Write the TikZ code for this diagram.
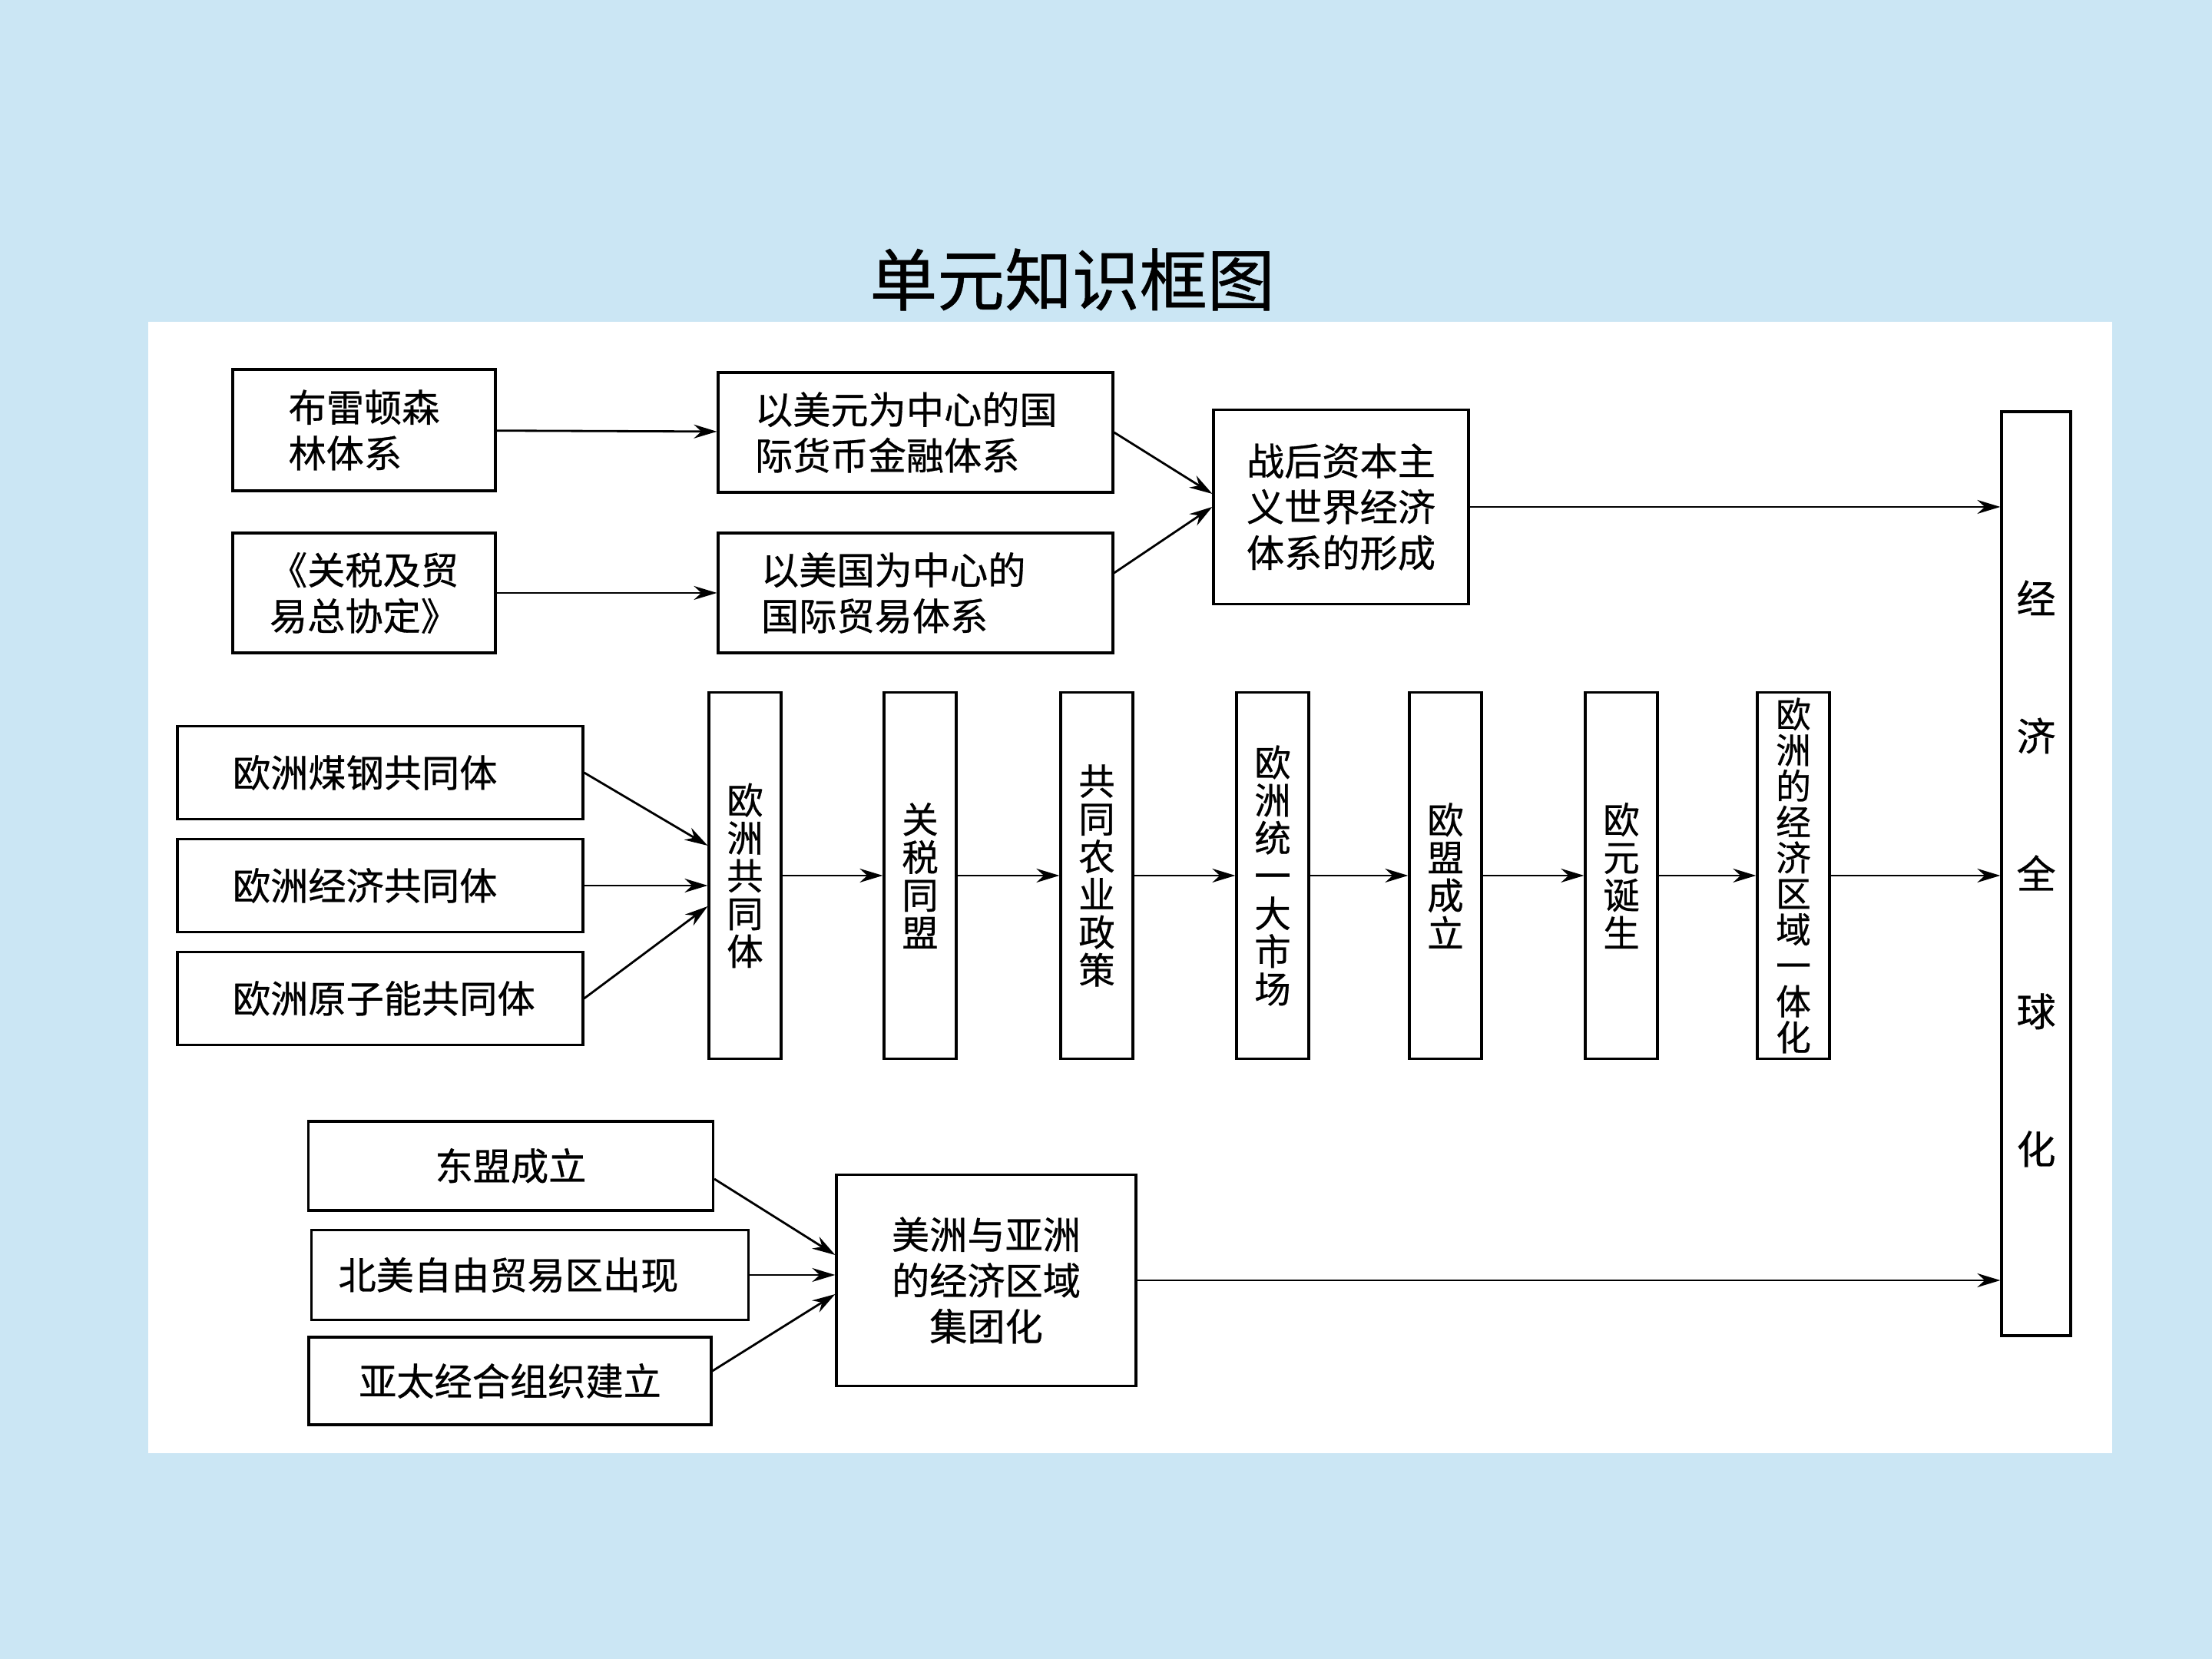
\documentclass[tikz,border=0pt]{standalone}
\usepackage{fontspec}
\usepackage{tikz}
\usetikzlibrary{arrows.meta}
\newfontfamily\cjk[FakeBold=0.6]{Noto Sans CJK SC}
\definecolor{sky}{HTML}{CBE6F4}

\begin{document}
\begin{tikzpicture}[
 b/.style={draw,line width=.9pt,fill=white,inner sep=0pt,font=\cjk\fontsize{14}{17}\selectfont},
 h/.style={b,align=left},
 l/.style={b,align=left,inner xsep=.72cm,text width=3.84cm,minimum height=1.21cm},
 v/.style={b,align=center,minimum width=.94cm,minimum height=4.77cm,font=\cjk\fontsize{13.5}{14}\selectfont},
 a/.style={-{Stealth[length=3mm,width=1.8mm]},line width=.8pt}
]
\fill[sky] (0,0) rectangle (28.8,21.6);
\fill[white] (1.93,2.68) rectangle (27.50,17.41);
\node[font=\cjk\fontsize{25}{30}\selectfont] (title) at (13.96,17.96) {单元知识框图};
% top rows
\node[h,minimum width=3.42cm,minimum height=1.58cm] (bl) at (4.74,16.00) {布雷顿森\\林体系};
\node[h,inner xsep=.48cm,text width=4.18cm,minimum height=1.56cm] (usd) at (11.92,15.97) {以美元为中心的国\\际货币金融体系};
\node[h,minimum width=3.42cm,minimum height=1.56cm] (gatt) at (4.74,13.88) {《关税及贸\\易总协定》};
\node[h,inner xsep=.56cm,text width=4.02cm,minimum height=1.56cm] (ust) at (11.92,13.88) {以美国为中心的\\国际贸易体系};
\node[h,minimum width=3.32cm,minimum height=2.53cm] (post) at (17.46,15.00) {战后资本主\\义世界经济\\体系的形成};
\node[b,align=center,minimum width=.90cm,minimum height=12.03cm,font=\cjk\fontsize{14.5}{51}\selectfont] (glob) at (26.51,10.225) {经\\济\\全\\球\\化};
% europe
\node[l] (ecsc) at (4.95,11.54) {欧洲煤钢共同体};
\node[l] (eec) at (4.95,10.07) {欧洲经济共同体};
\node[l] (eaec) at (4.95,8.60) {欧洲原子能共同体};
\node[v] (ec) at (9.70,10.20) {欧\\洲\\共\\同\\体};
\node[v] (cu) at (11.98,10.20) {关\\税\\同\\盟};
\node[v] (agri) at (14.28,10.20) {共\\同\\农\\业\\政\\策};
\node[v] (sm) at (16.57,10.20) {欧\\洲\\统\\一\\大\\市\\场};
\node[v] (eu) at (18.82,10.20) {欧\\盟\\成\\立};
\node[v] (euro) at (21.11,10.20) {欧\\元\\诞\\生};
\node[v,font=\cjk\fontsize{13}{13.3}\selectfont] (integ) at (23.35,10.20) {欧\\洲\\的\\经\\济\\区\\域\\一\\体\\化};
% america and asia
\node[h,minimum width=5.27cm,minimum height=1.16cm] (asean) at (6.65,6.42) {东盟成立};
\node[h,inner xsep=.35cm,text width=4.99cm,minimum height=1.17cm] (nafta) at (6.90,5.00) {北美自由贸易区出现};
\node[h,minimum width=5.24cm,minimum height=1.14cm] (apec) at (6.64,3.62) {亚太经合组织建立};
\node[b,align=center,minimum width=3.90cm,minimum height=2.75cm] (amas) at (12.84,4.93) {美洲与亚洲\\的经济区域\\集团化};
% arrows
\draw[a] (bl) -- (usd); \draw[a] (gatt) -- (ust);
\draw[a] (usd.east) -- ([yshift=1.7mm]post.west);
\draw[a] ([yshift=2.6mm]ust.east) -- (post.west);
\draw[a] (post.east) -- (post.east -| glob.west);
\draw[a] (ecsc.east) -- ([yshift=3.9mm]ec.west);
\draw[a] (eec.east) -- (eec.east -| ec.west);
\draw[a] (eaec.east) -- ([yshift=-4mm]ec.west);
\draw[a] (ec) -- (cu); \draw[a] (cu) -- (agri); \draw[a] (agri) -- (sm);
\draw[a] (sm) -- (eu); \draw[a] (eu) -- (euro); \draw[a] (euro) -- (integ);
\draw[a] (integ.east) -- (integ.east -| glob.west);
\draw[a] ([yshift=-1.7mm]asean.east) -- ([yshift=3.3mm]amas.west);
\draw[a] (nafta.east) -- (nafta.east -| amas.west);
\draw[a] ([yshift=1.3mm]apec.east) -- ([yshift=-1.8mm]amas.west);
\draw[a] (amas.east) -- (amas.east -| glob.west);
\end{tikzpicture}
\end{document}
